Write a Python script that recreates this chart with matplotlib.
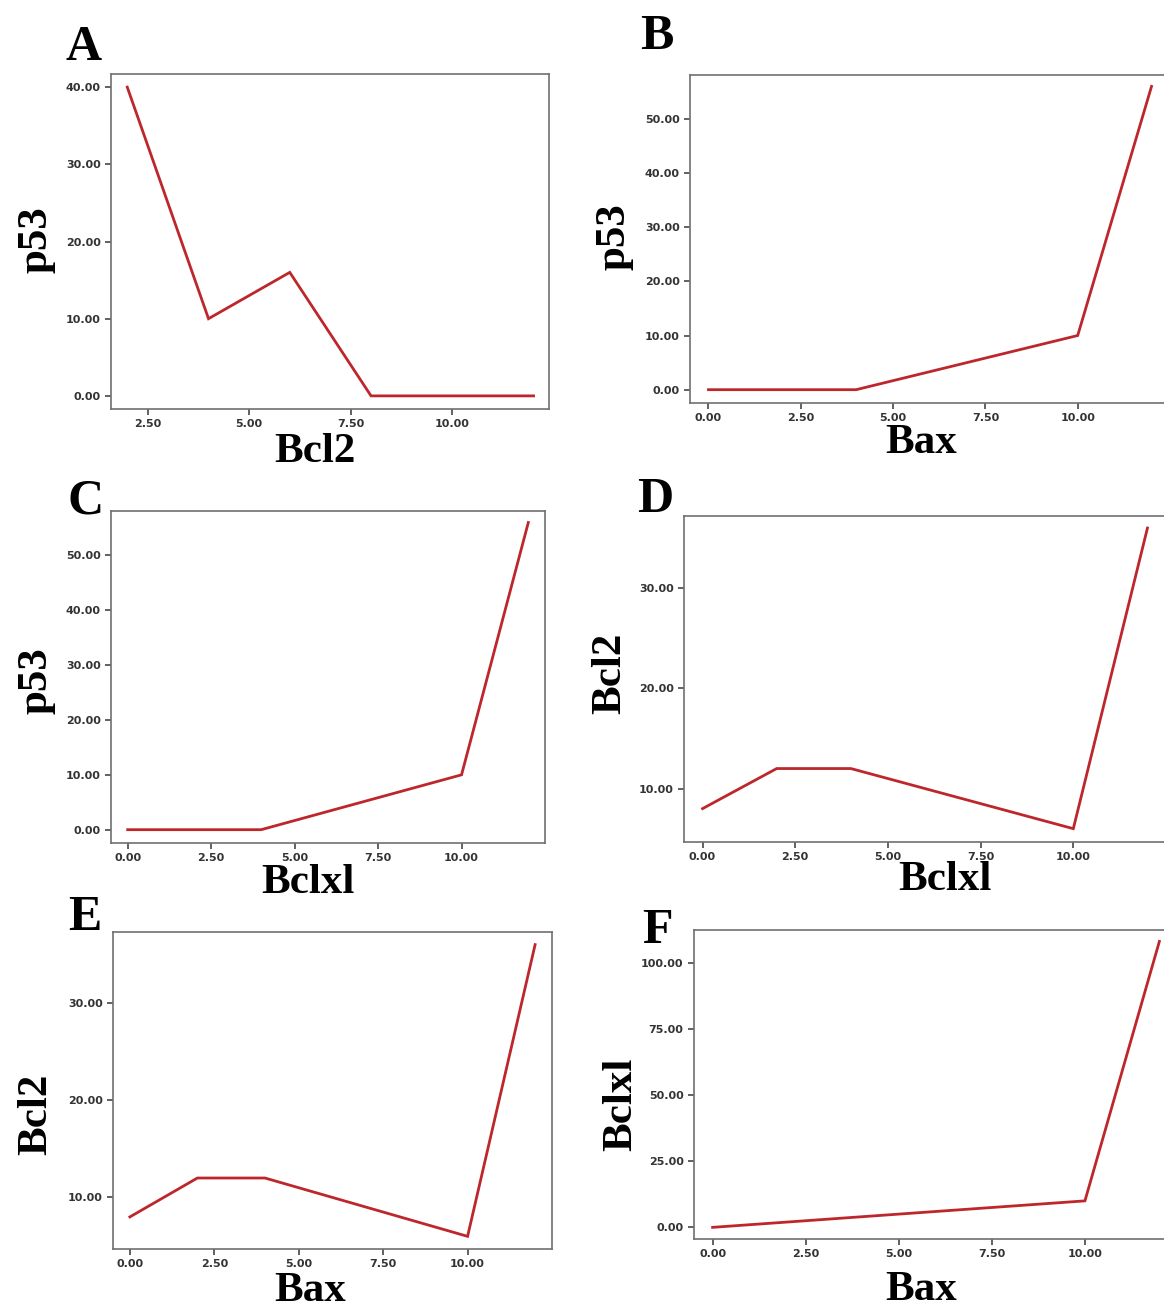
import matplotlib
matplotlib.use("Agg")
import matplotlib.pyplot as plt

W, H = 1164, 1312

# ---- data ----
a_x = [2, 4, 6, 8, 12]
a_y = [40, 10, 16, 0, 0]
b_x = [0, 4, 10, 12]
b_y = [0, 0, 10, 56]
c_x = [0, 4, 10, 12]
c_y = [0, 0, 10, 56]
d_x = [0, 2, 4, 10, 12]
d_y = [8, 12, 12, 6, 36]
e_x = [0, 2, 4, 10, 12]
e_y = [8, 12, 12, 6, 36]
f_x = [0, 10, 12]
f_y = [0, 10, 108]

letters = ["A", "B", "C", "D", "E", "F"]
xlabels = ["Bcl2", "Bax", "Bclxl", "Bclxl", "Bax", "Bax"]
ylabels = ["p53", "p53", "p53", "Bcl2", "Bcl2", "Bclxl"]
xticks_a = [2.5, 5, 7.5, 10]
xticks_std = [0, 2.5, 5, 7.5, 10]
yticks_ab = [0, 10, 20, 30, 40]
yticks_bc = [0, 10, 20, 30, 40, 50]
yticks_de = [10, 20, 30]
yticks_f = [0, 25, 50, 75, 100]

# ---- layout (pixels) ----
panels = [
    dict(x=a_x, y=a_y, box=(111, 74, 549, 409), xlim=(1.6, 12.38), ylim=(-1.7, 41.7),
         xt=xticks_a, yt=yticks_ab, let=(84, 60), xl=(315, 462), yl=(36, 240)),
    dict(x=b_x, y=b_y, box=(690, 75, 1170, 403), xlim=(-0.5, 12.5), ylim=(-2.46, 58.1),
         xt=xticks_std, yt=yticks_bc, let=(657, 49), xl=(921, 453), yl=(614, 237)),
    dict(x=c_x, y=c_y, box=(111, 511, 545, 843), xlim=(-0.5, 12.5), ylim=(-2.43, 58.1),
         xt=xticks_std, yt=yticks_bc, let=(86, 513), xl=(308, 893), yl=(36, 681)),
    dict(x=d_x, y=d_y, box=(684, 516, 1166, 842), xlim=(-0.5, 12.5), ylim=(4.67, 37.2),
         xt=xticks_std, yt=yticks_de, let=(655, 512), xl=(945, 890), yl=(610, 673)),
    dict(x=e_x, y=e_y, box=(113, 932, 552, 1249), xlim=(-0.5, 12.5), ylim=(4.7, 37.3),
         xt=xticks_std, yt=yticks_de, let=(85, 930), xl=(310, 1301), yl=(36, 1114)),
    dict(x=f_x, y=f_y, box=(694, 930, 1178, 1239), xlim=(-0.5, 12.5), ylim=(-4.4, 112.3),
         xt=xticks_std, yt=yticks_f, let=(657, 943), xl=(921, 1300), yl=(621, 1104)),
]

fig = plt.figure(figsize=(W / 100, H / 100), dpi=100)
fig.patch.set_facecolor("white")

serif = ["Liberation Serif", "DejaVu Serif"]
line_color = "#bd272c"
spine_color = "#707070"

for i, p in enumerate(panels):
    x0, y0, x1, y1 = p["box"]
    ax = fig.add_axes([x0 / W, 1 - y1 / H, (x1 - x0) / W, (y1 - y0) / H])
    ax.plot(p["x"], p["y"], color=line_color, lw=2.0, solid_joinstyle="miter")
    ax.set_xlim(*p["xlim"])
    ax.set_ylim(*p["ylim"])
    ax.set_xticks(p["xt"])
    ax.set_yticks(p["yt"])
    ax.set_xticklabels([f"{v:.2f}" for v in p["xt"]])
    ax.set_yticklabels([f"{v:.2f}" for v in p["yt"]])
    for s in ax.spines.values():
        s.set_color(spine_color)
        s.set_linewidth(1.2)
    ax.tick_params(direction="out", length=4, width=1.3, color="#555555",
                   labelsize=8, labelcolor="#333333", pad=3.5)
    for lab in ax.get_xticklabels() + ax.get_yticklabels():
        lab.set_fontweight("bold")
    ax.set_facecolor("white")

    # panel letter
    lx, ly = p["let"]
    fig.text(lx / W, 1 - ly / H, letters[i], fontsize=36, fontweight="bold",
             family=serif, ha="center", va="baseline")
    # x label
    ax.set_xlabel(xlabels[i], fontsize=31, fontweight="bold", family=serif,
                  ha="center", va="baseline")
    ax.xaxis.set_label_coords((p["xl"][0] - x0) / (x1 - x0),
                              (y1 - p["xl"][1]) / (y1 - y0))
    # y label
    ax.set_ylabel(ylabels[i], fontsize=31, fontweight="bold", family=serif,
                  ha="center", va="center")
    ax.yaxis.set_label_coords((p["yl"][0] - x0) / (x1 - x0),
                              (y1 - p["yl"][1]) / (y1 - y0))

fig.savefig("out.png", dpi=100, facecolor="white")
